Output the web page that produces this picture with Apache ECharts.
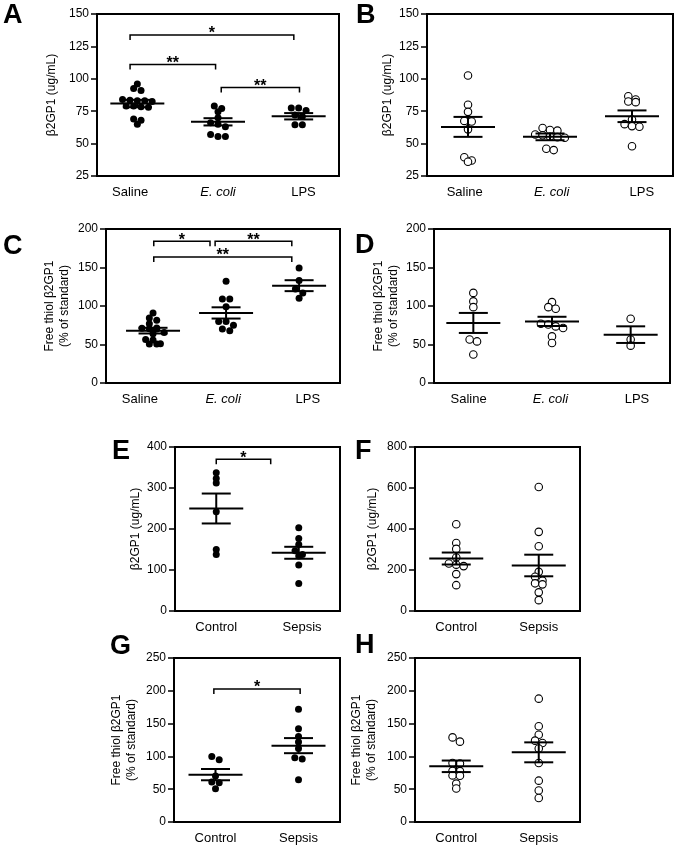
<!DOCTYPE html>
<html><head><meta charset="utf-8">
<script src="https://cdn.jsdelivr.net/npm/echarts@6/dist/echarts.min.js"></script>
<style>html,body{margin:0;padding:0;background:#fff}#c{width:675px;height:848px}</style>
</head><body><div id="c"></div>
<script>
// ---- categories ----
const catsTreat = ['Saline', 'E. coli', 'LPS'];
const catsSepsis = ['Control', 'Sepsis'];

// ---- Panel A: β2GP1 (ug/mL), filled ----
const aSaline = [96, 92.5, 91, 84, 83.5, 83, 83, 82.5, 79, 79, 78.5, 78, 69, 68, 65];
const aEcoli = [79, 77, 74.5, 70, 66, 65, 63, 57, 55.5, 55.5];
const aLps = [77.5, 77.5, 75.5, 72, 71, 64.5, 64.5];
const aMean = [80.9, 66.8, 71.1];
const aSem = [2.85, 2.8, 2.45];
const aBrackets = [[-0.09, 1.94, 133.8, '*'], [-0.09, 0.97, 111, '**'], [1.04, 2.01, 93.3, '**']];

// ---- Panel B: β2GP1 (ug/mL), open ----
const bSaline = [102.5, 80, 74.5, 67.5, 67, 61, 39.5, 37, 36];
const bEcoli = [62, 60.5, 60, 57, 56.5, 55.5, 55, 54.5, 46, 45];
const bLps = [86.5, 84, 82.5, 82, 68.5, 65, 63.5, 63, 48];
const bMean = [62.9, 55.2, 71.1];
const bSem = [7.7, 2.6, 4.5];

// ---- Panel C: Free thiol (% of standard), filled ----
const cSaline = [91, 84.5, 81.5, 77, 71.5, 71, 70.5, 70, 65.5, 64, 56.5, 56, 51, 50.5, 50.5];
const cEcoli = [132, 109, 109, 99, 80, 80, 75, 70, 68];
const cLps = [149.5, 133, 122, 117, 110];
const cMean = [68, 91, 126.4];
const cSem = [3.7, 7.3, 7.1];
const cBrackets = [[0.01, 0.78, 184, '*'], [0.85, 1.9, 184, '**'], [0.01, 1.9, 163.6, '**']];

// ---- Panel D: Free thiol (% of standard), open ----
const dSaline = [117, 106, 98.5, 56.5, 54, 37];
const dEcoli = [105, 98.5, 96.5, 77, 76, 73.5, 71.5, 60.5, 52];
const dLps = [83.5, 56.5, 48.5];
const dMean = [78, 80, 62.8];
const dSem = [13, 6, 10.8];

// ---- Panel E: β2GP1 (ug/mL), filled ----
const eControl = [337, 323, 312, 242, 150, 138];
const eSepsis = [203, 177, 162, 147, 138, 134, 112, 67];
const eMean = [250, 142];
const eSem = [36.5, 14.6];
const eBrackets = [[0, 0.66, 370, '*']];

// ---- Panel F: β2GP1 (ug/mL), open ----
const fControl = [423, 332, 303, 261, 232, 226, 219, 180, 126];
const fSepsis = [605, 386, 316, 191, 167, 148, 135, 130, 91, 53];
const fMean = [256, 222];
const fSem = [29.2, 52.7];

// ---- Panel G: Free thiol (% of standard), filled ----
const gControl = [100, 95, 70, 61, 60, 50.5];
const gSepsis = [172, 142, 130.5, 122, 112, 98, 96, 64.5];
const gMean = [72.2, 116.4];
const gSem = [8.6, 11.5];
const gBrackets = [[-0.02, 1.02, 202.8, '*']];

// ---- Panel H: Free thiol (% of standard), open ----
const hControl = [129, 122.5, 90, 89, 78, 77.5, 71, 70.5, 58.5, 51];
const hSepsis = [188, 146, 133, 124, 120.5, 112, 90, 63, 48, 36.5];
const hMean = [84.9, 106.2];
const hSem = [8.8, 15.2];

// ---- tick settings ----
const ticksAB = [25, 150, 25];
const ticksCD = [0, 200, 50];
const ticksE = [0, 400, 100];
const ticksF = [0, 800, 200];
const ticksGH = [0, 250, 50];

const titleConc = 'β2GP1 (ug/mL)';
const titleThiol = 'Free thiol β2GP1\n(% of standard)';

// ---- layout (positions/sizes) ----
const FONT = '"Liberation Sans", Arial, Helvetica, sans-serif';
const panels = [
  {letter:'A', lx:3, ly:2, box:[97,14,242,162], ticks:ticksAB, x:[-0.5,2.5], cats:catsTreat, labelPos:[-0.09,1,2.06], groups:[aSaline,aEcoli,aLps], mean:aMean, sem:aSem, open:false, title:titleConc, gap:38, brackets:aBrackets},
  {letter:'B', lx:356, ly:2, box:[427,14,246,162], ticks:ticksAB, x:[-0.5,2.5], cats:catsTreat, labelPos:[-0.04,1.02,2.12], groups:[bSaline,bEcoli,bLps], mean:bMean, sem:bSem, open:true, title:titleConc, gap:28, brackets:[]},
  {letter:'C', lx:3, ly:233, box:[106,229,234,154], ticks:ticksCD, x:[-0.644,2.56], cats:catsTreat, labelPos:[-0.18,0.96,2.12], groups:[cSaline,cEcoli,cLps], mean:cMean, sem:cSem, open:false, title:titleThiol, gap:34, brackets:cBrackets},
  {letter:'D', lx:355, ly:232, box:[434,229,236,154], ticks:ticksCD, x:[-0.5,2.5], cats:catsTreat, labelPos:[-0.06,0.98,2.08], groups:[dSaline,dEcoli,dLps], mean:dMean, sem:dSem, open:true, title:titleThiol, gap:33, brackets:[]},
  {letter:'E', lx:112, ly:438, box:[175,447,165,164], ticks:ticksE, x:[-0.5,1.5], cats:catsSepsis, labelPos:[0,1.04], groups:[eControl,eSepsis], mean:eMean, sem:eSem, open:false, title:titleConc, gap:32, brackets:eBrackets},
  {letter:'F', lx:355, ly:438, box:[415,447,165,164], ticks:ticksF, x:[-0.5,1.5], cats:catsSepsis, labelPos:[0,1], groups:[fControl,fSepsis], mean:fMean, sem:fSem, open:true, title:titleConc, gap:35, brackets:[]},
  {letter:'G', lx:110, ly:633, box:[174,658,166,164], ticks:ticksGH, x:[-0.5,1.5], cats:catsSepsis, labelPos:[0,1], groups:[gControl,gSepsis], mean:gMean, sem:gSem, open:false, title:titleThiol, gap:35, brackets:gBrackets},
  {letter:'H', lx:355, ly:632, box:[415,658,165,164], ticks:ticksGH, x:[-0.5,1.5], cats:catsSepsis, labelPos:[0,1], groups:[hControl,hSepsis], mean:hMean, sem:hSem, open:true, title:titleThiol, gap:36, brackets:[]}
];

const DOT_STEP = 7.4; // px between neighbouring dots in a row
function swarm(vals, center, p) {
  const yRange = p.ticks[1] - p.ticks[0];
  const pyu = p.box[3] / yRange;
  const pxu = p.box[2] / (p.x[1] - p.x[0]);
  const sorted = vals.slice().sort((a, b) => b - a);
  const rows = [];
  sorted.forEach(v => {
    const r = rows[rows.length - 1];
    if (r && (r[0] - v) * pyu < DOT_STEP * 0.6) r.push(v); else rows.push([v]);
  });
  const out = [];
  rows.forEach(r => r.forEach((v, i) => out.push([center + (i - (r.length - 1) / 2) * DOT_STEP / pxu, v])));
  return out;
}

const grid = [], xAxis = [], yAxis = [], series = [], graphic = [];
const black = '#000';
panels.forEach((p, i) => {
  grid.push({left:p.box[0], top:p.box[1], width:p.box[2], height:p.box[3], show:true,
    borderColor:black, borderWidth:2, backgroundColor:'transparent'});
  xAxis.push({gridIndex:i, type:'value', min:p.x[0], max:p.x[1],
    axisLine:{show:true, onZero:false, lineStyle:{color:black, width:2}},
    axisTick:{show:false}, splitLine:{show:false},
    axisLabel:{customValues:p.labelPos, margin:10, fontSize:13, color:black, fontFamily:FONT,
      formatter:function(v){
        let k = 0, best = 1e9;
        p.labelPos.forEach((q, j) => { const d = Math.abs(q - v); if (d < best) { best = d; k = j; } });
        const c = p.cats[k];
        return c === 'E. coli' ? '{it|' + c + '}' : c;
      },
      rich:{it:{fontStyle:'italic', fontSize:13, color:black, fontFamily:FONT}}}
  });
  yAxis.push({gridIndex:i, type:'value', min:p.ticks[0], max:p.ticks[1], interval:p.ticks[2],
    name:p.title, nameLocation:'middle', nameRotate:90, nameGap:p.gap,
    nameTextStyle:{fontSize:12, lineHeight:15, color:black, fontFamily:FONT},
    axisLine:{show:true, onZero:false, lineStyle:{color:black, width:2}},
    axisTick:{show:true, inside:false, length:6, lineStyle:{color:black, width:1.5}},
    axisLabel:{margin:8, fontSize:12, color:black, fontFamily:FONT},
    splitLine:{show:false}});

  p.groups.forEach((g, k) => {
    series.push({type:'scatter', xAxisIndex:i, yAxisIndex:i, data:swarm(g, k, p),
      symbol:'circle', symbolSize:p.open ? 7.5 : 7,
      itemStyle:p.open ? {color:'#fff', borderColor:black, borderWidth:1.1, opacity:1} : {color:black, opacity:1},
      z:2, silent:true});
  });

  series.push({type:'custom', xAxisIndex:i, yAxisIndex:i, z:5, silent:true,
    encode:{x:0, y:1},
    data:p.mean.map((m, k) => [k, m, p.sem[k]]),
    renderItem:function(params, api){
      const x = api.value(0), m = api.value(1), s = api.value(2);
      const c = api.coord([x, m]), t = api.coord([x, m + s]), b = api.coord([x, m - s]);
      const W = 27, w = 14.5, st = {stroke:black, lineWidth:2};
      return {type:'group', children:[
        {type:'line', shape:{x1:c[0]-W, y1:c[1], x2:c[0]+W, y2:c[1]}, style:st},
        {type:'line', shape:{x1:c[0], y1:t[1], x2:c[0], y2:b[1]}, style:st},
        {type:'line', shape:{x1:c[0]-w, y1:t[1], x2:c[0]+w, y2:t[1]}, style:st},
        {type:'line', shape:{x1:c[0]-w, y1:b[1], x2:c[0]+w, y2:b[1]}, style:st}
      ]};
    }});

  if (p.brackets.length) {
    series.push({type:'custom', xAxisIndex:i, yAxisIndex:i, z:6, silent:true,
      encode:{x:0, y:2},
      data:p.brackets.map(b => [b[0], b[1], b[2]]),
      renderItem:function(params, api){
        const b = p.brackets[params.dataIndex];
        const p1 = api.coord([b[0], b[2]]), p2 = api.coord([b[1], b[2]]);
        const drop = 5;
        return {type:'group', children:[
          {type:'polyline', shape:{points:[[p1[0], p1[1]+drop],[p1[0], p1[1]],[p2[0], p2[1]],[p2[0], p2[1]+drop]]},
            style:{stroke:black, lineWidth:1.5, fill:null}},
          {type:'text', x:(p1[0]+p2[0])/2, y:p1[1]-1,
            style:{text:b[3], align:'center', verticalAlign:'middle', fontSize:16, fontWeight:'bold', fontFamily:FONT, fill:black}}
        ]};
      }});
  }

  graphic.push({type:'text', left:p.lx, top:p.ly, style:{text:p.letter, fontSize:27, fontWeight:'bold', fontFamily:FONT, fill:black}});
});

const chart = echarts.init(document.getElementById('c'), null, {renderer:'canvas'});
chart.setOption({animation:false, backgroundColor:'#fff', grid, xAxis, yAxis, series, graphic});
</script>
</body></html>
